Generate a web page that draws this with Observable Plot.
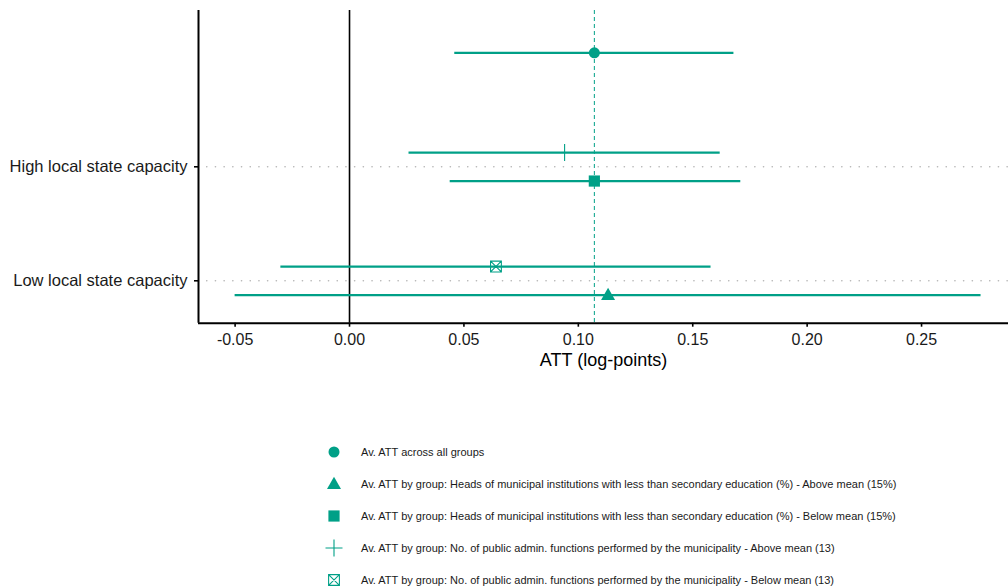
<!DOCTYPE html>
<html>
<head>
<meta charset="utf-8">
<script src="https://cdn.jsdelivr.net/npm/d3@7"></script>
<script src="https://cdn.jsdelivr.net/npm/@observablehq/plot@0.6"></script>
<style>
  html, body { margin: 0; padding: 0; background: #fff; }
  body { width: 1008px; height: 588px; overflow: hidden; font-family: "Liberation Sans", Arial, sans-serif; }
  #legend { margin-top: 56px; margin-left: 322px; }
  .row { height: 32px; display: flex; align-items: center; }
  .row svg { width: 24px; height: 24px; margin-right: 15px; flex: none; }
  .row span { font-size: 11px; color: #1a1a1a; white-space: nowrap; }
</style>
</head>
<body>
<div id="chart"></div>
<div id="legend"></div>
<script>
// ---- data ----
const labels = [
  "Av. ATT across all groups",
  "Av. ATT by group: Heads of municipal institutions with less than secondary education (%) - Above mean (15%)",
  "Av. ATT by group: Heads of municipal institutions with less than secondary education (%) - Below mean (15%)",
  "Av. ATT by group: No. of public admin. functions performed by the municipality - Above mean (13)",
  "Av. ATT by group: No. of public admin. functions performed by the municipality - Below mean (13)"
];
const groups = ["All", "Low", "High", "High", "Low"];
const variables = ["all", "education", "education", "functions", "functions"];
const estimates = [0.107, 0.113, 0.107, 0.094, 0.064];
const lower = [0.046, -0.050, 0.044, 0.026, -0.030];
const upper = [0.168, 0.276, 0.171, 0.162, 0.158];
const yCategories = ["Low local state capacity", "High local state capacity"];
const xTicks = [-0.05, 0, 0.05, 0.10, 0.15, 0.20, 0.25];
const xLabel = "ATT (log-points)";

// ---- styling / layout ----
const teal = "#00A087";
const level = {Low: 1, High: 2, All: 3};
const dodge = {all: 0, education: -0.125, functions: 0.125};

const circleSym = {draw(c, size) { const r = Math.sqrt(size / Math.PI); c.moveTo(r, 0); c.arc(0, 0, r, 0, 2 * Math.PI); }};
const triangleSym = {draw(c, size) { const r = Math.sqrt(size / Math.PI); c.moveTo(0, -r * 1.05); c.lineTo(r, r * 0.7); c.lineTo(-r, r * 0.7); c.closePath(); }};
const squareSym = {draw(c, size) { const r = Math.sqrt(size / Math.PI); c.rect(-r, -r, 2 * r, 2 * r); }};
const plusSym = {draw(c, size) { const r = Math.sqrt(size / Math.PI); c.moveTo(-r, 0); c.lineTo(r, 0); c.moveTo(0, -r); c.lineTo(0, r); }};
const boxXSym = {draw(c, size) { const r = Math.sqrt(size / Math.PI); c.rect(-r, -r, 2 * r, 2 * r); c.moveTo(-r, -r); c.lineTo(r, r); c.moveTo(r, -r); c.lineTo(-r, r); }};

const symbols = [
  {sym: circleSym, r: 5.5, filled: true},
  {sym: triangleSym, r: 7, filled: true},
  {sym: squareSym, r: 5.6, filled: true},
  {sym: plusSym, r: 8.5, filled: false},
  {sym: boxXSym, r: 5.4, filled: false}
];

const data = labels.map((label, i) => ({
  label, est: estimates[i], lo: lower[i], hi: upper[i],
  y: level[groups[i]] + dodge[variables[i]], i
}));

const yDomain = [0.628, 3.371];
const avg = estimates[0];

const dotMarks = data.map(d => {
  const s = symbols[d.i];
  return Plot.dot([d], {
    x: "est", y: "y", symbol: s.sym, r: s.r,
    fill: s.filled ? teal : "none",
    stroke: s.filled ? "none" : teal,
    strokeWidth: 1.1
  });
});

const chart = Plot.plot({
  width: 1008,
  height: 380,
  marginLeft: 198,
  marginRight: 0,
  marginTop: 10,
  marginBottom: 57.3,
  style: {fontFamily: "'Liberation Sans', Arial, sans-serif", fontSize: "16px", color: "#000", background: "#fff"},
  x: {domain: [-0.066, 0.288]},
  y: {domain: yDomain},
  marks: [
    Plot.gridY([1, 2], {stroke: "#b5b5b5", strokeOpacity: 1, strokeWidth: 1.6, strokeDasharray: "0.1 8.6", strokeLinecap: "round"}),
    Plot.ruleX([0], {stroke: "#000", strokeWidth: 1.6}),
    Plot.ruleX([avg], {stroke: teal, strokeWidth: 1, strokeDasharray: "4 3"}),
    Plot.ruleY(data, {y: "y", x1: "lo", x2: "hi", stroke: teal, strokeWidth: 2.2}),
    ...dotMarks,
    Plot.ruleY([yDomain[0]], {stroke: "#000", strokeWidth: 2}),
    Plot.ruleX([-0.066], {stroke: "#000", strokeWidth: 2}),
    Plot.axisX(xTicks, {tickSize: 4, tickPadding: 6, tickFormat: d => d.toFixed(2), fontSize: 16, label: null, strokeWidth: 1.6, fill: "#1a1a1a"}),
    Plot.axisY([1, 2], {tickSize: 4, tickPadding: 7, tickFormat: d => yCategories[d - 1], fontSize: 16.5, label: null, strokeWidth: 1.6, fill: "#1a1a1a"}),
    Plot.text([xLabel], {frameAnchor: "bottom", dy: 43, fontSize: 18, fill: "#000"})
  ]
});
document.getElementById("chart").appendChild(chart);

// ---- legend ----
const legend = d3.select("#legend");
symbols.forEach((s, i) => {
  const row = legend.append("div").attr("class", "row");
  const svg = row.append("svg").attr("viewBox", "-12 -12 24 24");
  svg.append("path")
    .attr("d", d3.symbol(s.sym, s.r * s.r * Math.PI)())
    .attr("fill", s.filled ? teal : "none")
    .attr("stroke", s.filled ? "none" : teal)
    .attr("stroke-width", 1.1);
  row.append("span").text(labels[i]);
});
</script>
</body>
</html>
